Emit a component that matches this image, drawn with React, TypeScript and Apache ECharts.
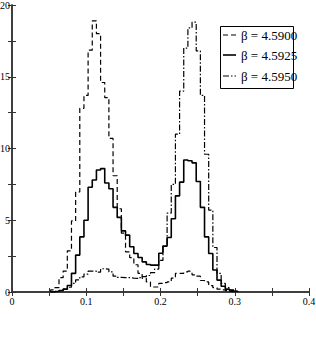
import React, { useEffect, useRef } from "react";
import * as echarts from "echarts";

// histogram binning (left edge of first bin, bin width)
const BIN_START = 0.0521;
const BIN_WIDTH = 0.0056;

const seriesNames = ["β = 4.5900", "β = 4.5925", "β = 4.5950"];

const beta45900 = [
  0.15, 0.3, 1.0, 1.46, 2.87, 4.95, 6.97, 12.8, 13.7, 16.85, 18.9, 18.0, 14.6,
  13.55, 10.7, 8.1, 5.8, 4.1, 2.8, 2.4, 1.9, 1.3, 0.95, 0.7, 0.35, 0.35, 0.6,
  0.65, 0.7, 0.97, 1.3, 1.3, 1.4, 1.45, 1.2, 1.1, 0.8, 0.7, 0.45, 0.3, 0.2,
  0.15, 0.1, 0.05, 0,
];

const beta45925 = [
  0.02, 0.05, 0.1, 0.2, 0.45, 1.3, 2.57, 3.84, 5.0, 7.3, 7.8, 8.5, 8.6, 7.6,
  7.2, 5.9, 5.2, 4.26, 3.96, 3.15, 2.68, 2.4, 2.1, 1.92, 1.87, 1.87, 2.7, 3.2,
  3.8, 5.1, 6.7, 7.66, 9.2, 9.15, 9.0, 7.7, 5.9, 3.84, 2.68, 1.53, 0.83, 0.4,
  0.2, 0.1, 0.05,
];

const beta45950 = [
  0, 0.05, 0.1, 0.2, 0.33, 0.6, 0.85, 1.05, 1.25, 1.45, 1.45, 1.38, 1.62, 1.6,
  1.4, 1.1, 1.02, 1.0, 1.0, 0.97, 0.95, 1.0, 1.07, 1.15, 1.35, 1.6, 2.2, 3.2,
  5.5, 7.5, 11.0, 14.0, 17.0, 18.4, 18.8, 16.8, 13.7, 9.6, 5.7, 3.1, 1.3, 0.6,
  0.3, 0.15, 0.05,
];

const xTicks = { min: 0, max: 0.4, interval: 0.1 };
const yTicks = { min: 0, max: 20, interval: 5 };

function histPoints(values: number[]) {
  const pts: number[][] = [[BIN_START, 0]];
  values.forEach((v, i) => pts.push([BIN_START + i * BIN_WIDTH, v]));
  pts.push([BIN_START + values.length * BIN_WIDTH, 0]);
  return pts;
}

const FONT = "Liberation Serif";
const PAD = 24; // extra canvas beyond the visible window on left/right

export default function App() {
  const ref = useRef<HTMLDivElement>(null);
  useEffect(() => {
    if (!ref.current) return;
    const chart = echarts.init(ref.current, undefined, { renderer: "svg" });
    const axisLine = { show: true, lineStyle: { color: "#333", width: 1.5 } };
    const tick = { show: true, inside: true, length: 4, lineStyle: { color: "#333", width: 1 } };
    const minor = { show: true, splitNumber: 2, length: 4, lineStyle: { color: "#333", width: 1 } };
    const label = { fontFamily: FONT, fontSize: 10, color: "#000" };
    const dashes: any[] = [[5, 3], null, [6, 2, 1.5, 2]];
    const widths = [1.2, 1.6, 1.2];
    const datasets = [beta45900, beta45925, beta45950];

    const legendX = 220 + PAD;
    const legendY = 26;
    const rowY = [35, 55, 76];
    const legendGraphics: any[] = [
      {
        type: "rect",
        shape: { x: legendX + 0.5, y: legendY + 0.5, width: 73, height: 62 },
        style: { fill: "#fff", stroke: "#000", lineWidth: 1 },
        z: 100,
      },
    ];
    seriesNames.forEach((name, i) => {
      legendGraphics.push({
        type: "line",
        shape: { x1: legendX + 3, y1: rowY[i], x2: legendX + 16, y2: rowY[i] },
        style: {
          stroke: "#000",
          lineWidth: widths[i],
          lineDash: dashes[i] || undefined,
        },
        z: 101,
      });
      legendGraphics.push({
        type: "text",
        x: legendX + 21,
        y: rowY[i],
        style: {
          text: name,
          fontFamily: FONT,
          fontSize: 13,
          fill: "#000",
          verticalAlign: "middle",
        },
        z: 101,
      });
    });

    chart.setOption({
      animation: false,
      grid: { left: 12 + PAD, right: 7 + PAD, top: 5, bottom: 62 },
      xAxis: [
        {
          type: "value",
          ...xTicks,
          position: "bottom",
          axisLine,
          axisTick: tick,
          minorTick: minor,
          splitLine: { show: false },
          axisLabel: { ...label, margin: 4, showMaxLabel: true, showMinLabel: true },
        },
        {
          type: "value",
          ...xTicks,
          position: "top",
          axisLine,
          axisTick: tick,
          minorTick: minor,
          splitLine: { show: false },
          axisLabel: { show: false },
        },
      ],
      yAxis: [
        {
          type: "value",
          ...yTicks,
          position: "left",
          axisLine,
          axisTick: tick,
          minorTick: minor,
          splitLine: { show: false },
          axisLabel: { ...label, margin: 2, showMaxLabel: true, showMinLabel: true },
        },
        {
          type: "value",
          ...yTicks,
          position: "right",
          axisLine,
          axisTick: tick,
          minorTick: minor,
          splitLine: { show: false },
          axisLabel: { show: false },
        },
      ],
      graphic: legendGraphics,
      series: datasets.map((d, i) => ({
        name: seriesNames[i],
        type: "line",
        step: "end",
        xAxisIndex: 0,
        yAxisIndex: 0,
        symbol: "none",
        data: histPoints(d),
        lineStyle: { color: "#000", width: widths[i], type: dashes[i] || "solid" },
        itemStyle: { color: "#000" },
      })),
    });
    return () => chart.dispose();
  }, []);
  return (
    <div
      style={{
        position: "fixed",
        left: 0,
        top: 0,
        width: 316,
        height: 354,
        overflow: "hidden",
        background: "#fff",
      }}
    >
      <div
        ref={ref}
        style={{ position: "absolute", left: -PAD, top: 0, width: 316 + 2 * PAD, height: 354 }}
      />
    </div>
  );
}
